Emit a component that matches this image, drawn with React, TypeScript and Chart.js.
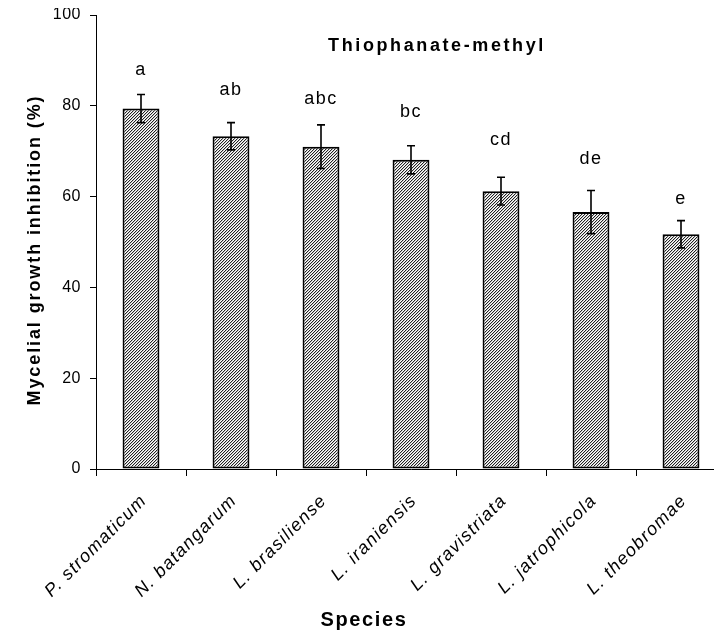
import React, { useEffect, useRef } from "react";
import { Chart, registerables } from "chart.js";

Chart.register(...registerables);

const species = [
  "P. stromaticum",
  "N. batangarum",
  "L. brasiliense",
  "L. iraniensis",
  "L. gravistriata",
  "L. jatrophicola",
  "L. theobromae",
];
const means = [79.4, 73.3, 71.0, 68.1, 61.2, 56.6, 51.7];
const errors = [3.1, 3.0, 4.8, 3.1, 3.05, 4.75, 3.0];
const letters = ["a", "ab", "abc", "bc", "cd", "de", "e"];
const letterLevels = [87.9, 83.5, 81.5, 78.6, 72.5, 68.3, 59.5];
const yMin = 0;
const yMax = 100;
const yStep = 20;

const FONT = "'Liberation Sans', Arial, sans-serif";

function makePattern(ctx: CanvasRenderingContext2D) {
  const c = document.createElement("canvas");
  c.width = 3;
  c.height = 3;
  const g = c.getContext("2d")!;
  g.fillStyle = "#fff";
  g.fillRect(0, 0, 3, 3);
  for (let i = 0; i < 3; i++) {
    g.fillStyle = "#222";
    g.fillRect(i, 2 - i, 1, 1);
    g.fillStyle = "#c4c4c4";
    g.fillRect((i + 1) % 3, 2 - i, 1, 1);
  }
  return ctx.createPattern(c, "repeat")!;
}

const overlayPlugin = {
  id: "overlay",
  beforeLayout(chart: any) {
    chart.ctx.letterSpacing = "0.5px";
  },
  beforeDraw(chart: any) {
    chart.ctx.letterSpacing = "0.5px";
  },
  afterDatasetsDraw(chart: any) {
    const ctx: CanvasRenderingContext2D = chart.ctx;
    const xs = chart.scales.x;
    const ys = chart.scales.y;
    const area = chart.chartArea;
    ctx.save();
    // error bars
    ctx.strokeStyle = "#000";
    ctx.lineWidth = 1.6;
    means.forEach((m, i) => {
      const x = xs.getPixelForValue(i);
      const t = ys.getPixelForValue(m + errors[i]);
      const b = ys.getPixelForValue(m - errors[i]);
      ctx.beginPath();
      ctx.moveTo(x, t);
      ctx.lineTo(x, b);
      ctx.moveTo(x - 4, t);
      ctx.lineTo(x + 4, t);
      ctx.moveTo(x - 4, b);
      ctx.lineTo(x + 4, b);
      ctx.stroke();
    });
    // letters
    ctx.fillStyle = "#000";
    ctx.font = `18px ${FONT}`;
    (ctx as any).letterSpacing = "1.5px";
    ctx.textAlign = "center";
    ctx.textBaseline = "middle";
    letters.forEach((l, i) => {
      ctx.fillText(l, xs.getPixelForValue(i), ys.getPixelForValue(letterLevels[i]));
    });
    // x labels
    ctx.font = `italic 18px ${FONT}`;
    (ctx as any).letterSpacing = "1.3px";
    ctx.textAlign = "right";
    ctx.textBaseline = "middle";
    species.forEach((s, i) => {
      ctx.save();
      ctx.translate(xs.getPixelForValue(i) + 3, area.bottom + 29);
      ctx.rotate(-Math.PI / 4);
      ctx.fillText(s, 0, 0);
      ctx.restore();
    });
    // title
    ctx.font = `bold 18px ${FONT}`;
    (ctx as any).letterSpacing = "2.6px";
    ctx.textAlign = "center";
    ctx.textBaseline = "middle";
    ctx.fillText("Thiophanate-methyl", 429, 38);
    // x title
    ctx.font = `bold 20px ${FONT}`;
    (ctx as any).letterSpacing = "1.6px";
    ctx.fillText("Species", 356, 612);
    // y title
    ctx.save();
    ctx.translate(27, 242);
    ctx.rotate(-Math.PI / 2);
    ctx.font = `bold 18px ${FONT}`;
    (ctx as any).letterSpacing = "1.9px";
    ctx.fillText("Mycelial growth inhibition (%)", 0, 0);
    ctx.restore();
    ctx.restore();
  },
};

export default function App() {
  const ref = useRef<HTMLCanvasElement>(null);
  useEffect(() => {
    const canvas = ref.current!;
    const ctx = canvas.getContext("2d")!;
    const pattern = makePattern(ctx);
    const chart = new Chart(canvas, {
      type: "bar",
      data: {
        labels: species,
        datasets: [
          {
            data: means,
            backgroundColor: pattern as any,
            borderColor: "#000",
            borderWidth: 2,
            borderSkipped: false,
            barPercentage: 0.41,
            categoryPercentage: 1,
          },
        ],
      },
      options: {
        animation: false,
        responsive: false,
        maintainAspectRatio: false,
        layout: { padding: { top: 7, right: 12, left: 0, bottom: 0 } },
        plugins: {
          legend: { display: false },
          tooltip: { enabled: false },
          title: { display: false },
        },
        scales: {
          x: {
            offset: true,
            grid: {
              offset: true,
              drawOnChartArea: false,
              drawTicks: true,
              tickLength: 7,
              color: "#000",
            },
            border: { display: true, color: "#000", width: 1 },
            ticks: { display: false },
            afterFit(scale: any) {
              scale.height = 169;
              scale.paddingLeft = 0;
              scale.paddingRight = 0;
            },
          },
          y: {
            min: yMin,
            max: yMax,
            grid: {
              drawOnChartArea: false,
              drawTicks: true,
              tickLength: 6,
              color: "#000",
            },
            border: { display: true, color: "#000", width: 1 },
            ticks: {
              stepSize: yStep,
              color: "#000",
              padding: 9,
              font: { family: FONT, size: 16 },
            },
            afterFit(scale: any) {
              scale.width = 88;
              scale.paddingTop = 0;
              scale.paddingBottom = 0;
            },
          },
        },
      },
      plugins: [overlayPlugin],
    });
    return () => chart.destroy();
  }, []);
  return (
    <div style={{ width: 714, height: 630, overflow: "hidden" }}>
      <canvas ref={ref} width={730} height={630} style={{ display: "block" }} />
    </div>
  );
}
